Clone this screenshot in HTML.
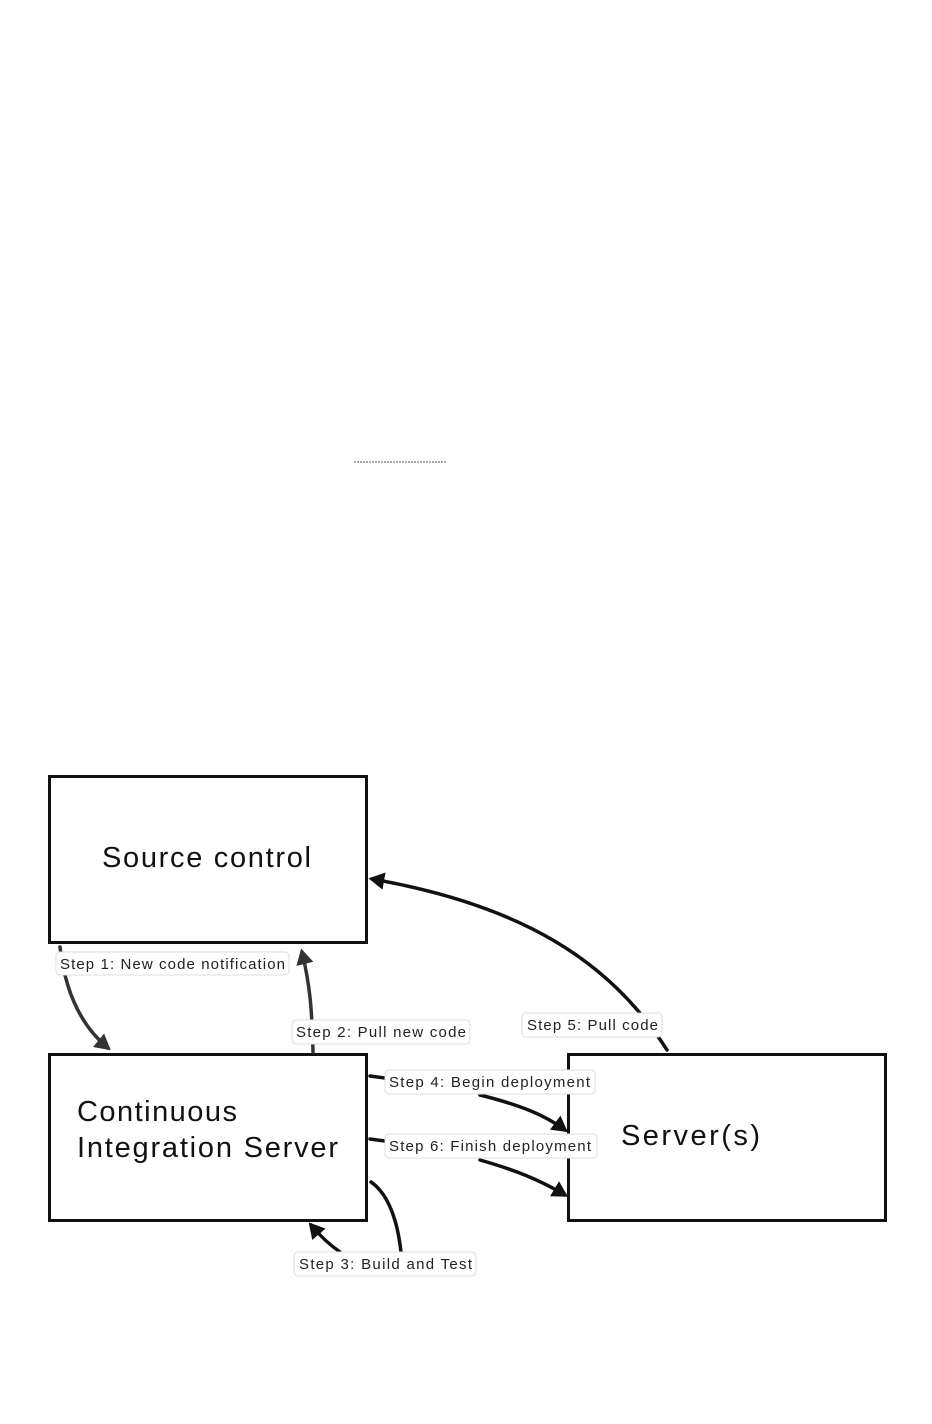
<!DOCTYPE html>
<html><head><meta charset="utf-8"><style>
html,body{margin:0;padding:0;background:#fff;}
svg{display:block;}
text{font-family:"Liberation Sans",sans-serif;}
</style></head><body>
<svg width="932" height="1424" viewBox="0 0 932 1424" xmlns="http://www.w3.org/2000/svg">
<defs>
<marker id="ah" markerWidth="5" markerHeight="5" refX="3.5" refY="2.5" orient="auto" markerUnits="strokeWidth">
<path d="M0,0 L4.5,2.5 L0,5 Z" fill="#111"/>
</marker>
<marker id="ahg" markerWidth="5" markerHeight="5" refX="3.5" refY="2.5" orient="auto" markerUnits="strokeWidth">
<path d="M0,0 L4.5,2.5 L0,5 Z" fill="#333"/>
</marker>
</defs>
<line x1="354" y1="462" x2="447" y2="462" stroke="#555" stroke-width="1" stroke-dasharray="2,1"/>
<g fill="#fff" stroke="#111" stroke-width="3">
<rect x="49.5" y="776.5" width="317" height="166"/>
<rect x="49.5" y="1054.5" width="317" height="166"/>
<rect x="568.5" y="1054.5" width="317" height="166"/>
</g>
<g font-size="29" fill="#111">
<text x="102" y="867" textLength="209" lengthAdjust="spacing">Source control</text>
<text x="77" y="1121" textLength="160" lengthAdjust="spacing">Continuous</text>
<text x="77" y="1157" textLength="261" lengthAdjust="spacing">Integration Server</text>
<text x="621" y="1145" textLength="139" lengthAdjust="spacing">Server(s)</text>
</g>
<g fill="none" stroke-width="3.5" stroke-linecap="round">
<path d="M60,947 C65,990 80,1025 108,1048" stroke="#333" marker-end="url(#ahg)"/>
<path d="M313,1052 C312,1010 310,985 302,952" stroke="#333" marker-end="url(#ahg)"/>
<path d="M667,1050 C610,960 520,905 372,879" stroke="#111" marker-end="url(#ah)"/>
<path d="M370,1076 L385,1078" stroke="#111"/>
<path d="M480,1095 C520,1105 545,1115 565,1130" stroke="#111" marker-end="url(#ah)"/>
<path d="M370,1139 L385,1141" stroke="#111"/>
<path d="M480,1160 C515,1170 540,1180 565,1195" stroke="#111" marker-end="url(#ah)"/>
<path d="M371,1182 C390,1195 398,1225 401,1252" stroke="#111"/>
<path d="M340,1252 C330,1245 322,1238 311,1225" stroke="#111" marker-end="url(#ah)"/>
</g>
<g font-size="15" fill="#222">
<rect x="56" y="952" width="233" height="23" rx="4" fill="#fff" stroke="#ddd"/>
<text x="60" y="969" textLength="225" lengthAdjust="spacing">Step 1: New code notification</text>
<rect x="292" y="1020" width="178" height="24" rx="4" fill="#fff" stroke="#ddd"/>
<text x="296" y="1037" textLength="170" lengthAdjust="spacing">Step 2: Pull new code</text>
<rect x="522" y="1013" width="140" height="24" rx="4" fill="#fff" stroke="#ddd"/>
<text x="527" y="1030" textLength="131" lengthAdjust="spacing">Step 5: Pull code</text>
<rect x="385" y="1070" width="210" height="24" rx="4" fill="#fff" stroke="#ddd"/>
<text x="389" y="1087" textLength="201" lengthAdjust="spacing">Step 4: Begin deployment</text>
<rect x="385" y="1134" width="212" height="24" rx="4" fill="#fff" stroke="#ddd"/>
<text x="389" y="1151" textLength="202" lengthAdjust="spacing">Step 6: Finish deployment</text>
<rect x="294" y="1252" width="182" height="24" rx="4" fill="#fff" stroke="#ddd"/>
<text x="299" y="1269" textLength="173" lengthAdjust="spacing">Step 3: Build and Test</text>
</g>
</svg>
</body></html>
